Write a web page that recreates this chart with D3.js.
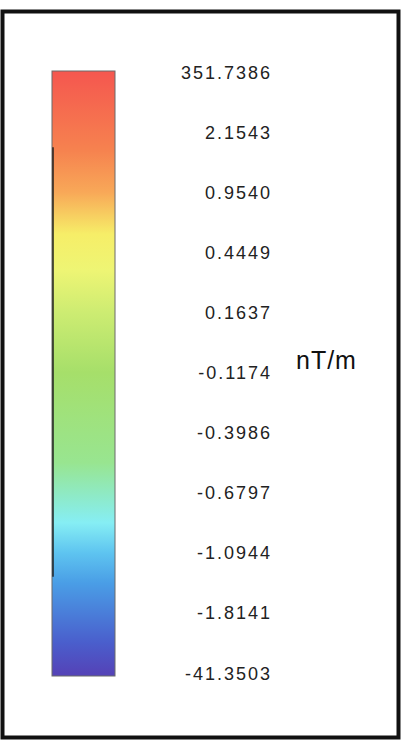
<!DOCTYPE html>
<html>
<head>
<meta charset="utf-8">
<script src="https://cdn.jsdelivr.net/npm/d3@7"></script>
<style>
  body { margin: 0; background: #fff; }
  .tick-label { font-family: "Liberation Sans", Arial, sans-serif; font-size: 18px; fill: #222; letter-spacing: 2px; }
  .unit { font-family: "Liberation Sans", Arial, sans-serif; font-size: 25px; fill: #111; letter-spacing: 1px; }
</style>
</head>
<body>
<svg id="legend" width="403" height="744"></svg>
<script>
// colour bar labels, top to bottom
const tickLabels = ['351.7386', '2.1543', '0.9540', '0.4449', '0.1637', '-0.1174',
  '-0.3986', '-0.6797', '-1.0944', '-1.8141', '-41.3503'];
const unitText = 'nT/m';

// colour ramp, stop position given in label steps (0 = top label)
const stopIdx = [0, 1.3, 2, 2.7, 3.3, 4, 5, 6.5, 7.5, 8, 8.5, 9.5, 10];
const stopColors = ['#f5574f', '#f6824f', '#f8a858', '#f6ee68', '#eef574', '#cdec72',
  '#a6df6a', '#98e590', '#86eef4', '#5ec4f0', '#4a9ee6', '#4a5ecc', '#5444b8'];

const svg = d3.select('#legend');
const W = 403, H = 744;

svg.append('rect').attr('width', W).attr('height', H).attr('fill', '#fff');

const yScale = d3.scaleLinear()
  .domain([0, tickLabels.length - 1])
  .range([72, 673]);

const barX = 52, barW = 63;
const barTop = yScale(0) - 1, barBot = yScale(tickLabels.length - 1) + 3;

const grad = svg.append('defs').append('linearGradient')
  .attr('id', 'ramp')
  .attr('gradientUnits', 'userSpaceOnUse')
  .attr('x1', 0).attr('x2', 0)
  .attr('y1', barTop).attr('y2', barBot);

grad.selectAll('stop')
  .data(stopIdx)
  .enter()
  .append('stop')
  .attr('offset', (d) => (yScale(d) - barTop) / (barBot - barTop))
  .attr('stop-color', (d, i) => stopColors[i]);

svg.append('rect')
  .attr('x', barX)
  .attr('y', barTop)
  .attr('width', barW)
  .attr('height', barBot - barTop)
  .attr('fill', 'url(#ramp)')
  .attr('stroke', '#6b6b6b')
  .attr('stroke-width', 1);

// dark left edge of the bar (scan artefact of the outline)
svg.append('line')
  .attr('x1', barX + 1).attr('x2', barX + 1)
  .attr('y1', yScale(1.25)).attr('y2', yScale(8.4))
  .attr('stroke', '#222')
  .attr('stroke-width', 1.5);

svg.selectAll('.tick-label')
  .data(tickLabels)
  .enter()
  .append('text')
  .attr('class', 'tick-label')
  .attr('x', 272)
  .attr('y', (d, i) => yScale(i) + 6.5)
  .attr('text-anchor', 'end')
  .text((d) => d);

svg.append('text')
  .attr('class', 'unit')
  .attr('x', 296)
  .attr('y', yScale(5) - 4)
  .text(unitText);

// outer frame
svg.append('rect')
  .attr('x', 2.5)
  .attr('y', 11.5)
  .attr('width', 396)
  .attr('height', 726)
  .attr('fill', 'none')
  .attr('stroke', '#111')
  .attr('stroke-width', 4);
</script>
</body>
</html>
